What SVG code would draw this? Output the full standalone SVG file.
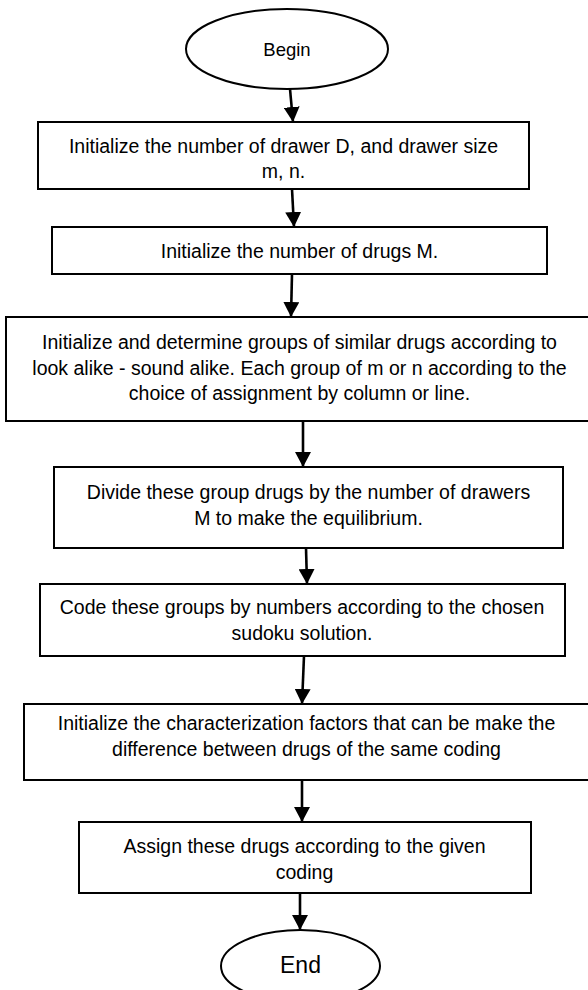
<svg xmlns="http://www.w3.org/2000/svg" width="588" height="990" viewBox="0 0 588 990">
  <style>
    .shape { fill: #ffffff; stroke: #000000; stroke-width: 2; }
    .conn { fill: none; stroke: #000000; stroke-width: 2.6; }
    .label { font-family: "Liberation Sans", Arial, sans-serif; font-size: 19.5px; fill: #000000; text-anchor: middle; }
    .term { font-family: "Liberation Sans", Arial, sans-serif; font-size: 18.5px; fill: #000000; text-anchor: middle; }
  </style>
  <defs>
    <marker id="arrow" markerUnits="userSpaceOnUse" markerWidth="15" markerHeight="16" viewBox="0 0 15 16" refX="15" refY="8" orient="auto">
      <polygon points="0,0 15,8 0,16" fill="#000000"/>
    </marker>
  </defs>
  <rect width="588" height="990" fill="#ffffff"/>

  <g id="begin">
    <ellipse class="shape" cx="287" cy="49" rx="101" ry="40"/>
    <text class="term" x="287" y="56">Begin</text>
  </g>

  <g id="step1">
    <rect class="shape" x="38" y="122" width="491" height="67"/>
    <text class="label" x="283.5" y="153">Initialize the number of drawer D, and drawer size</text>
    <text class="label" x="283.5" y="178">m, n.</text>
  </g>

  <g id="step2">
    <rect class="shape" x="52" y="227" width="495" height="47"/>
    <text class="label" x="299.5" y="258">Initialize the number of drugs M.</text>
  </g>

  <g id="step3">
    <rect class="shape" x="6" y="317" width="586" height="104"/>
    <text class="label" x="299.5" y="349">Initialize and determine groups of similar drugs according to</text>
    <text class="label" x="299.5" y="375">look alike - sound alike. Each group of m or n according to the</text>
    <text class="label" x="299.5" y="400">choice of assignment by column or line.</text>
  </g>

  <g id="step4">
    <rect class="shape" x="54" y="467" width="509" height="81"/>
    <text class="label" x="308.5" y="499">Divide these group drugs by the number of drawers</text>
    <text class="label" x="308.5" y="525">M to make the equilibrium.</text>
  </g>

  <g id="step5">
    <rect class="shape" x="40" y="584" width="525" height="72"/>
    <text class="label" x="302" y="614">Code these groups by numbers according to the chosen</text>
    <text class="label" x="302" y="640">sudoku solution.</text>
  </g>

  <g id="step6">
    <rect class="shape" x="24" y="704" width="566" height="76"/>
    <text class="label" x="306.5" y="730">Initialize the characterization factors that can be make the</text>
    <text class="label" x="306.5" y="756">difference between drugs of the same coding</text>
  </g>

  <g id="step7">
    <rect class="shape" x="79" y="822" width="452" height="71"/>
    <text class="label" x="304.5" y="853">Assign these drugs according to the given</text>
    <text class="label" x="304.5" y="879">coding</text>
  </g>

  <g id="end">
    <ellipse class="shape" cx="300.5" cy="966" rx="79.5" ry="36"/>
    <text class="term" x="300.5" y="973" style="font-size:23px">End</text>
  </g>

  <g id="connectors">
    <line class="conn" x1="290" y1="89" x2="293" y2="122" marker-end="url(#arrow)"/>
    <line class="conn" x1="292" y1="189" x2="294" y2="227" marker-end="url(#arrow)"/>
    <line class="conn" x1="292" y1="274" x2="291" y2="317" marker-end="url(#arrow)"/>
    <line class="conn" x1="303" y1="421" x2="303" y2="467" marker-end="url(#arrow)"/>
    <line class="conn" x1="306" y1="548" x2="307" y2="584" marker-end="url(#arrow)"/>
    <line class="conn" x1="304" y1="656" x2="302" y2="704" marker-end="url(#arrow)"/>
    <line class="conn" x1="302" y1="780" x2="302" y2="822" marker-end="url(#arrow)"/>
    <line class="conn" x1="300" y1="893" x2="300" y2="930" marker-end="url(#arrow)"/>
  </g>
</svg>
